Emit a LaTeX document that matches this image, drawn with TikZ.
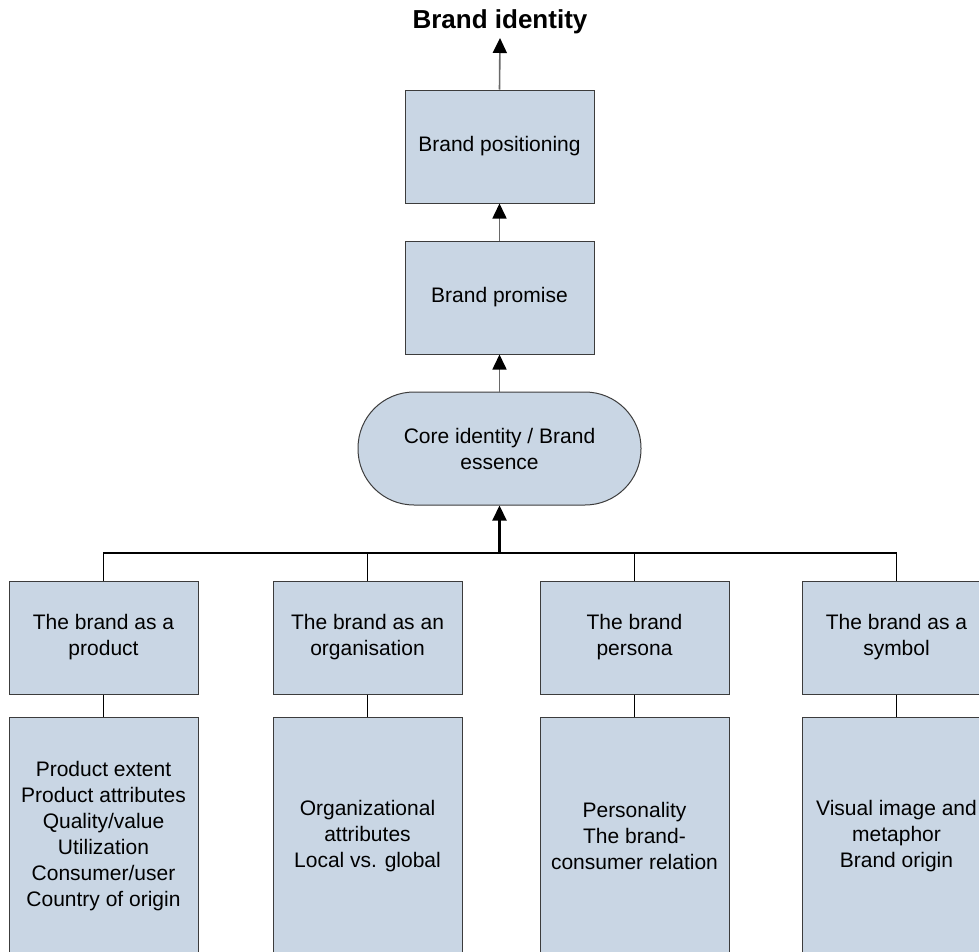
\documentclass[tikz,border=0pt]{standalone}
\usepackage{fontspec}
\setmainfont{Liberation Sans}
\usetikzlibrary{arrows.meta}
\definecolor{boxfill}{RGB}{201,214,228}
\definecolor{boxline}{RGB}{60,60,60}
\definecolor{linkgray}{RGB}{105,105,105}

\begin{document}
\begin{tikzpicture}[x=1pt, y=-1pt,
    box/.style={draw=boxline, fill=boxfill, line width=1pt, minimum width=189pt,
      minimum height=113pt, inner sep=0pt, align=center,
      font=\fontsize{21}{26}\selectfont},
    tallbox/.style={box, minimum height=238pt},
    corebox/.style={box, minimum width=283pt, rounded corners=56pt},
    uplink/.style={draw=linkgray, line width=1.6pt, -{Triangle[width=14pt,length=15pt,color=black]}},
    mainlink/.style={draw=black, line width=2.2pt, -{Triangle[width=14pt,length=15pt]}},
    drop/.style={draw=black, line width=1.1pt}]
    \useasboundingbox (0,0) rectangle (979,951);
    \clip (0,0) rectangle (979,951);

    % top of the chain
    \node[anchor=base, font=\bfseries\fontsize{26}{30}\selectfont] (ident) at (500,28) {Brand identity};
    \coordinate (identtip) at (500,38);
    \node[box] (pos) at (499.5,146.5) {Brand positioning};
    \node[box] (prom) at (499.5,297.5) {Brand promise};
    \node[corebox] (core) at (499.5,448.5) {Core identity / Brand\\essence};

    \draw[uplink] (pos.north) -- (identtip);
    \draw[uplink] (prom.north) -- (pos.south);
    \draw[uplink] (core.north) -- (prom.south);

    % the four dimensions
    \node[box] (prod) at (103.5,637.5) {The brand as a\\product};
    \node[box] (org) at (367.5,637.5) {The brand as an\\organisation};
    \node[box] (pers) at (634.5,637.5) {The brand\\persona};
    \node[box] (sym) at (896.5,637.5) {The brand as a\\symbol};

    \node[tallbox] (prodlist) at (103.5,836) {Product extent\\Product attributes\\Quality/value\\Utilization\\Consumer/user\\Country of origin};
    \node[tallbox] (orglist) at (367.5,836) {Organizational\\attributes\\Local vs. global};
    \node[tallbox] (perslist) at (634.5,836) {Personality\\The brand-\\consumer relation};
    \node[tallbox] (symlist) at (896.5,836) {Visual image and\\metaphor\\Brand origin};

    % bus up to the core
    \coordinate (bus) at (499.5,553);
    \draw[drop] (prod.north) |- (bus) -| (sym.north);
    \draw[drop] (org.north) |- (bus);
    \draw[drop] (pers.north) |- (bus);
    \draw[mainlink] (bus) -- (core.south);

    \draw[drop] (prod.south) -- (prodlist.north);
    \draw[drop] (org.south) -- (orglist.north);
    \draw[drop] (pers.south) -- (perslist.north);
    \draw[drop] (sym.south) -- (symlist.north);
\end{tikzpicture}
\end{document}
